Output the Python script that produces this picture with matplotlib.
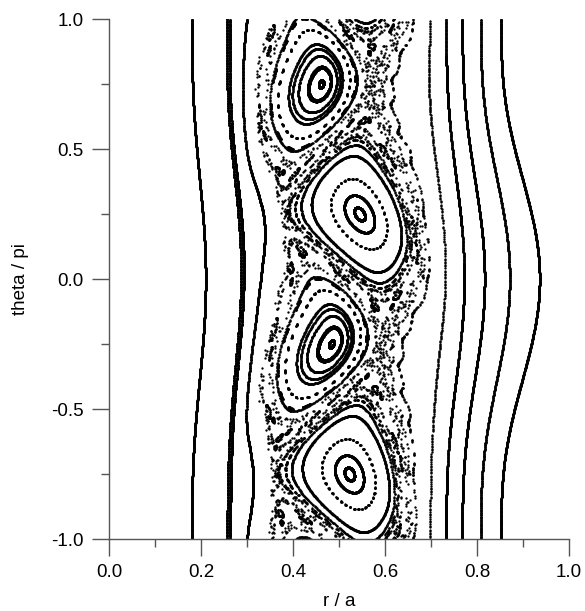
import numpy as np
import matplotlib
matplotlib.use("Agg")
import matplotlib.pyplot as plt
from matplotlib.ticker import MultipleLocator

plt.rcParams["font.family"] = ["Liberation Sans", "DejaVu Sans"]
plt.rcParams["axes.unicode_minus"] = False

# rotational transform: reversed shear, iota = 1/2 on both sides of q_center
q_center = 0.474
q_halfgap = 0.0657
q_curv = 9.0
q_sat = 0.12

# m = 2 perturbation, switched on only across the island region
kick_amp = 0.032
kick_tilt = 0.8
kick_phase = np.pi / 4
kick_edges = [0.30, 0.66]
kick_soft = 0.03

# geometry of the plotted section (flux radius -> r/a)
warp_amp = -0.05
warp_center = 0.42
warp_width = [0.07, 0.13]
shift_base = 0.03
shift_edge = 0.053

# field lines: start radius, start angle (units of pi), number of turns
seed_r = [0.18, 0.257, 0.263, 0.30, 0.698, 0.733, 0.768, 0.808, 0.852,
          0.58, 0.60, 0.62, 0.64, 0.66,
          0.55, 0.565, 0.585, 0.61,
          0.415, 0.43, 0.445, 0.46, 0.35, 0.37, 0.39,
          0.42, 0.44, 0.46, 0.48, 0.50, 0.52]
seed_theta = ([1.0] * 9 + [1.0] * 5 + [0.25] * 4
              + [0.75] * 7 + [0.0] * 6)
seed_turns = ([1500, 1500, 1500, 1500, 350, 1500, 1500, 900, 1500]
              + [900, 900, 900, 400, 400] + [1500, 1500, 400, 1500]
              + [1500, 1500, 700, 700, 600, 600, 600]
              + [700, 700, 600, 600, 600, 600])


def iota(x):
    u = x - q_center
    return 0.5 + q_curv * (q_halfgap ** 2 - u ** 2) / (1 + (u / q_sat) ** 2)


def kick(x):
    lo, hi = kick_edges
    a = np.tanh((x - lo) / kick_soft)
    b = np.tanh((x - hi) / kick_soft)
    env = 0.5 * (a - b)
    denv = 0.5 * ((1 - a ** 2) - (1 - b ** 2)) / kick_soft
    tilt = 1 + kick_tilt * (x - q_center)
    return kick_amp * env * tilt, kick_amp * (denv * tilt + env * kick_tilt)


def step(x, th):
    psi = 2 * (th - kick_phase)
    s2, c2 = np.sin(psi), np.cos(psi)
    xn = x + kick(x)[0] * s2
    for _ in range(12):
        xn = x + kick(xn)[0] * s2
    dbn = kick(xn)[1]
    thn = th + 2 * np.pi * iota(xn) + 0.5 * dbn * c2
    thn = (thn + np.pi) % (2 * np.pi) - np.pi
    return xn, thn


def to_plot(x, th):
    sig = np.where(x < warp_center, warp_width[0], warp_width[1])
    w = warp_amp * np.exp(-((x - warp_center) / sig) ** 2)
    d = shift_base + shift_edge * np.clip((x - 0.65) / 0.2, 0, None) ** 2
    p = ((1 + np.cos(th)) / 2) ** 1.5
    return x + w * np.cos(2 * (th - kick_phase)) + d * p


x = np.array(seed_r, dtype=float)
th = np.array(seed_theta, dtype=float) * np.pi
th = (th + np.pi) % (2 * np.pi) - np.pi
turns = np.array(seed_turns)
n_max = turns.max()
xs = np.empty((n_max, x.size))
ts = np.empty((n_max, x.size))
for n in range(n_max):
    xs[n], ts[n] = x, th
    x, th = step(x, th)

fig = plt.figure(figsize=(5.85, 6.11), dpi=100)
ax = fig.add_axes([109 / 585, 72 / 611, 460 / 585, 520 / 611])
for k in range(x.size):
    r = to_plot(xs[:turns[k], k], ts[:turns[k], k])
    ax.plot(r, ts[:turns[k], k] / np.pi, "o", ms=1.7, mew=0, color="black")

ax.set_xlim(0, 1)
ax.set_ylim(-1, 1)
ax.spines["top"].set_visible(False)
ax.spines["right"].set_visible(False)
for s in ("left", "bottom"):
    ax.spines[s].set_color("#555555")
    ax.spines[s].set_linewidth(1.0)
ax.xaxis.set_major_locator(MultipleLocator(0.2))
ax.xaxis.set_minor_locator(MultipleLocator(0.1))
ax.yaxis.set_major_locator(MultipleLocator(0.5))
ax.yaxis.set_minor_locator(MultipleLocator(0.25))
ax.xaxis.set_major_formatter(lambda v, pos: f"{v:.1f}")
ax.yaxis.set_major_formatter(lambda v, pos: f"{v:.1f}")
ax.tick_params(which="major", direction="out", length=12, width=1,
               color="#555555", labelsize=13.5, pad=6)
ax.tick_params(which="minor", direction="out", length=6, width=1,
               color="#555555")
ax.set_xlabel("r / a", fontsize=13.5, labelpad=9)
ax.set_ylabel("theta / pi", fontsize=13.5, labelpad=16)

fig.savefig("out.png", dpi=100)
